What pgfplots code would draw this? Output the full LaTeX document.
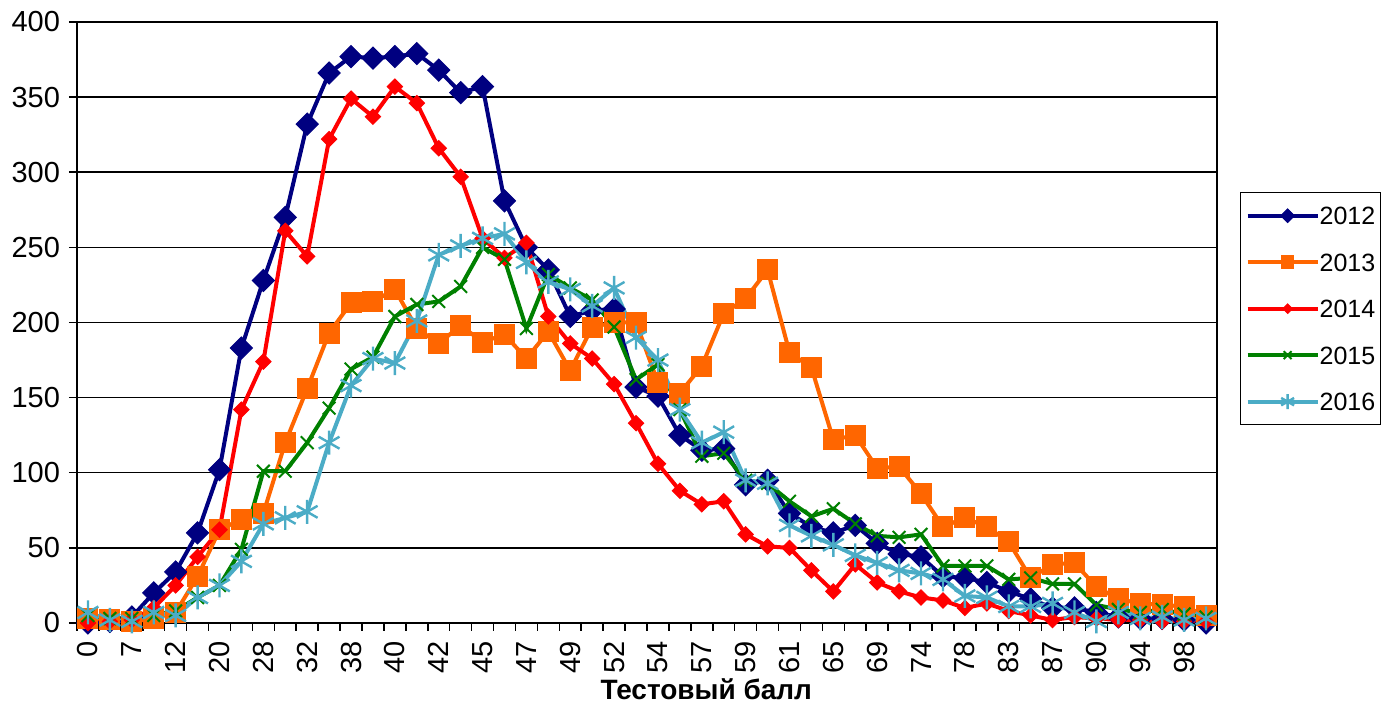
\documentclass[border=0pt]{standalone}
\usepackage{pgfplots}
\usepackage{pgfplotstable}
\pgfplotsset{compat=1.18}
\usepackage{fontspec}
\setmainfont{Liberation Sans}
\definecolor{c12}{HTML}{000080}
\definecolor{c13}{HTML}{FF6600}
\definecolor{c14}{HTML}{FF0000}
\definecolor{c15}{HTML}{008000}
\definecolor{c16}{HTML}{4BACC6}
\pgfplotstableread{
i  a   b   c   d   e
0  0   3   0   5   7
1  1   2   1   3   2
2  4   1   2   3   1
3  20  3   10  5   7
4  34  7   25  8   5
5  60  31  44  17  17
6  102 62  62  25  25
7  183 69  142 49  41
8  228 73  174 101 66
9  270 120 261 101 70
10 332 156 244 120 74
11 366 193 322 143 120
12 377 213 349 169 158
13 376 214 337 177 176
14 377 222 357 204 173
15 379 196 346 212 201
16 368 186 316 214 245
17 353 198 297 224 251
18 357 187 256 250 256
19 281 192 243 242 259
20 250 176 253 196 240
21 235 194 204 232 227
22 204 168 186 223 222
23 208 197 176 215 211
24 209 200 159 197 223
25 157 200 133 162 190
26 151 160 106 172 175
27 125 153 88  142 142
28 115 171 79  111 120
29 116 206 81  113 127
30 92  216 59  95  95
31 95  235 51  93  93
32 73  180 50  81  65
33 64  170 35  71  58
34 60  122 21  76  52
35 65  125 39  66  45
36 53  103 27  58  40
37 46  104 21  57  35
38 44  86  17  59  33
39 31  64  15  38  29
40 30  70  10  38  18
41 27  64  13  38  17
42 21  54  8   29  11
43 16  30  5   30  11
44 10  39  2   26  13
45 10  40  4   26  7
46 7   24  3   12  1
47 4   16  2   9   7
48 3   13  2   7   3
49 3   12  1   9   4
50 2   11  1   6   2
51 0   5   1   4   3
}\datatable
\begin{document}
\begin{tikzpicture}
\begin{axis}[
  scale only axis, width=570pt, height=300.5pt,
  xmin=-0.5, xmax=51.5, ymin=0, ymax=400,
  ytick={0,50,...,400},
  xtick={-0.5,0.5,...,51.5},
  xticklabels={},
  extra x ticks={0,2,...,50},
  extra x tick labels={0,7,12,20,28,32,38,40,42,45,47,49,52,54,57,59,61,65,69,74,78,83,87,90,94,98},
  extra x tick style={major tick length=0pt, xticklabel style={yshift=-5.5pt, rotate=90, anchor=east}},
  ymajorgrids, major grid style={black, line width=0.75pt},
  tick align=outside, tick pos=left,
  major tick length=4pt,
  tick style={black, line width=0.75pt},
  axis line style={black, line width=0.75pt},
  ticklabel style={font=\fontsize{14.5}{16}\selectfont},
  yticklabel style={xshift=-1pt},
  /pgf/number format/assume math mode=true,
  xlabel={Тестовый балл},
  every axis x label/.style={at={(axis description cs:0.552,0)}, anchor=base, yshift=-38.5pt, font=\bfseries\fontsize{14}{16}\selectfont},
  legend style={at={(axis description cs:1.0202,0.717)}, anchor=north west, draw=black, line width=0.6pt,
    font=\fontsize{12.5}{15}\selectfont, nodes={inner sep=0pt, text height=9pt, text depth=0pt},
    row sep=14.25pt, column sep=0pt, inner xsep=2.5pt, inner ysep=7pt},
  legend cell align=left,
  legend image code/.code={\path (-5pt,0pt) -- (0pt,0pt);\draw[mark repeat=2,mark phase=2, every mark/.append style={scale=0.62}] plot coordinates {(0pt,0pt) (15pt,0pt) (30pt,0pt)};},
  every axis plot/.append style={line width=2pt},
]
\coordinate (sw) at (rel axis cs:0,0);
\addplot[c12, mark=square*, mark size=3.9pt, mark options={rotate=45, solid, line width=0.5pt}] table[x=i,y=a] {\datatable};
\addplot[c13, mark=square*, mark size=5pt, mark options={solid, line width=0.5pt}] table[x=i,y=b] {\datatable};
\addplot[c14, mark=square*, mark size=2.7pt, mark options={rotate=45, solid, line width=0.5pt}] table[x=i,y=c] {\datatable};
\addplot[c15, mark=x, mark size=4.5pt, mark options={solid, line width=1pt}] table[x=i,y=d] {\datatable};
\addplot[c16, mark=asterisk, mark size=6pt, mark options={solid, line width=1.2pt}] table[x=i,y=e] {\datatable};
\legend{2012,2013,2014,2015,2016}
\end{axis}
\pgfresetboundingbox
\path[use as bounding box] ([xshift=-38.5pt,yshift=-41.5pt]sw) rectangle ++(691pt,353pt);
\end{tikzpicture}
\end{document}
